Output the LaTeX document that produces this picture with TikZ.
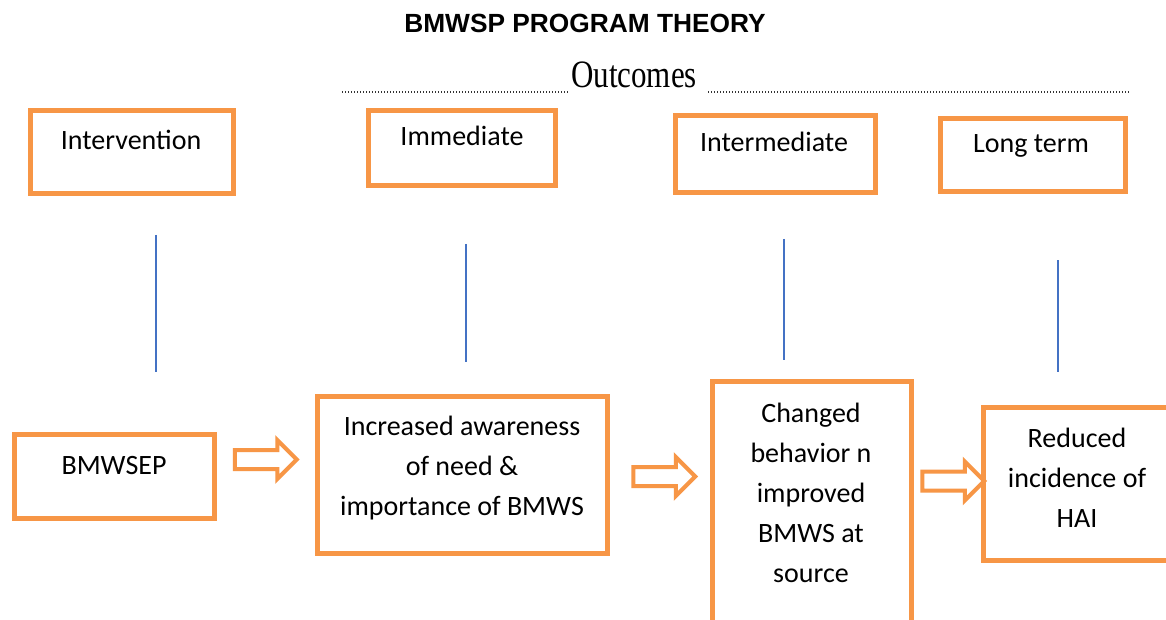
\documentclass[tikz,border=0pt]{standalone}
\usepackage{fontspec}
\setmainfont{Carlito}
\newfontfamily\titlefont{Liberation Sans}
\newfontfamily\serifont{Liberation Serif}
\usetikzlibrary{shapes.arrows}
\definecolor{boxorange}{HTML}{F79646}
\definecolor{lineblue}{HTML}{4472C4}
\begin{document}
\begin{tikzpicture}[x=1pt,y=-1pt,
  box/.style={draw=boxorange, line width=4.5pt, rectangle, inner sep=0pt},
  lbl/.style={font=\fontsize{28}{40}\selectfont, inner sep=0pt, align=center, text=black},
  blk/.style={single arrow, draw=boxorange, line width=4pt, fill=white, inner sep=0pt,
    text height=0pt, text depth=0pt, inner ysep=7.5pt, minimum height=62pt,
    minimum width=34pt, single arrow head extend=10pt},
  vline/.style={draw=lineblue, line width=1.2pt},
  dotline/.style={draw=black!80, line width=1.2pt, dash pattern=on 1.2pt off 1.8pt}]
\clip (0,0) rectangle (1166,620);
\fill[white] (0,0) rectangle (1166,620);

% title
\node[font=\titlefont\bfseries\fontsize{26.3}{30}\selectfont, anchor=base, inner sep=0pt] (title) at (585,33) {BMWSP PROGRAM THEORY};

% outcomes header
\node[anchor=base, font=\serifont\fontsize{31}{34}\selectfont, inner sep=0pt] (outc) at (634,88) {\scalebox{1}[1.25]{Outcomes}};
\coordinate (d1a) at (342,92);
\coordinate (d1b) at (568,92);
\coordinate (d2a) at (708,92);
\coordinate (d2b) at (1130,92);
\draw[dotline] (d1a) -- (d1b);
\draw[dotline] (d2a) -- (d2b);

% top boxes
\node[box, minimum width=203pt, minimum height=83pt] (intv) at (132,152) {};
\node[box, minimum width=187pt, minimum height=75pt] (imm) at (462,148) {};
\node[box, minimum width=200pt, minimum height=77pt] (intm) at (775.5,154) {};
\node[box, minimum width=185pt, minimum height=73pt] (lt) at (1033,155) {};
\node[lbl, anchor=base] (intvT) at (131,150) {Intervention};
\node[lbl, anchor=base] (immT) at (462,146) {Immediate};
\node[lbl, anchor=base] (intmT) at (774,152) {Intermediate};
\node[lbl, anchor=base] (ltT) at (1031,153) {Long term};

% bottom boxes
\node[box, minimum width=200pt, minimum height=84pt] (bmw) at (114.5,476.5) {};
\node[box, minimum width=290pt, minimum height=157pt] (aware) at (462.5,475) {};
\node[box, minimum width=199pt, minimum height=278.5pt] (chg) at (812,520.75) {};
\node[box, minimum width=206.5pt, minimum height=153pt] (red) at (1086.75,484) {};
\node[lbl, anchor=base] (bmwT) at (114,474) {BMWSEP};
\node[lbl] (awareT) at (462,468.5) {Increased awareness\\of need \&\\importance of BMWS};
\node[lbl] (chgT) at (811,492.4) {Changed\\behavior n\\improved\\BMWS at\\source};
\node[lbl] (redT) at (1077,478.2) {Reduced\\incidence of\\HAI};

% block arrows
\node[blk] (a1) at (261,459.5) {};
\node[blk] (a2) at (659.5,476.5) {};
\node[blk] (a3) at (948.5,481) {};

% blue lines
\coordinate (v1a) at (156,235);
\coordinate (v1b) at (156,372);
\coordinate (v2a) at (466,244);
\coordinate (v2b) at (466,362);
\coordinate (v3a) at (784,239);
\coordinate (v3b) at (784,360);
\coordinate (v4a) at (1058,260);
\coordinate (v4b) at (1058,372);
\draw[vline] (v1a) -- (v1b);
\draw[vline] (v2a) -- (v2b);
\draw[vline] (v3a) -- (v3b);
\draw[vline] (v4a) -- (v4b);
\end{tikzpicture}
\end{document}
